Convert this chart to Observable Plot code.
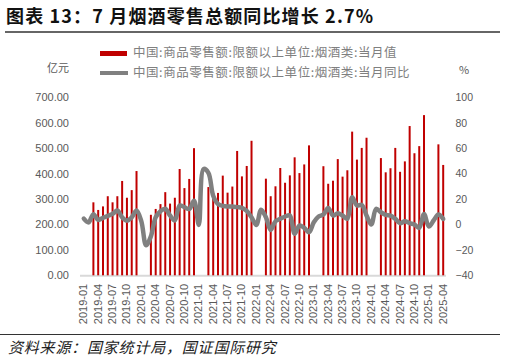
<!DOCTYPE html>
<html><head><meta charset="utf-8">
<script src="https://cdn.jsdelivr.net/npm/d3@7"></script>
<script src="https://cdn.jsdelivr.net/npm/@observablehq/plot@0.6"></script>
<style>
body{margin:0;background:#fff;}
#c{position:relative;width:506px;height:361px;overflow:hidden;font-family:"Noto Sans CJK SC",sans-serif;}
.t{position:absolute;white-space:nowrap;line-height:1;}
.sw{position:absolute;}
#plot{position:absolute;left:0;top:80px;}
</style></head><body><div id="c">
<div class="t" id="title" style="left:6px;top:6px;font-size:18px;font-weight:bold;color:#111;letter-spacing:1.15px"></div>
<div class="sw" style="left:5px;top:30.5px;width:495px;height:2px;background:#666"></div>
<div class="sw" style="left:100px;top:50.5px;width:27px;height:5px;background:#c00000"></div>
<div class="t" id="leg1" style="left:133px;top:46px;font-size:12.5px;color:#808080;letter-spacing:0.55px"></div>
<div class="sw" style="left:100px;top:71px;width:28px;height:4px;background:#808080"></div>
<div class="t" id="leg2" style="left:133px;top:66px;font-size:12.5px;color:#808080;letter-spacing:0.55px"></div>
<div class="t" id="unitL" style="left:47px;top:62px;font-size:11px;color:#595959"></div>
<div class="t" id="unitR" style="left:459px;top:64px;font-size:11px;color:#595959"></div>
<div id="plot"></div>
<div class="sw" style="left:0px;top:333.5px;width:500px;height:1.5px;background:#333"></div>
<div class="t" id="src" style="left:8px;top:339px;font-size:15px;font-style:italic;color:#222;letter-spacing:0.8px"></div>
</div>
<script>
const titleText = "图表 13：7 月烟酒零售总额同比增长 2.7%";
const seriesNames = ["中国:商品零售额:限额以上单位:烟酒类:当月值", "中国:商品零售额:限额以上单位:烟酒类:当月同比"];
const unitLeft = "亿元";
const unitRight = "%";
const sourceText = "资料来源：国家统计局，国证国际研究";

const months = [
 "2019-01","2019-02","2019-03","2019-04","2019-05","2019-06","2019-07","2019-08","2019-09","2019-10","2019-11","2019-12",
 "2020-01","2020-02","2020-03","2020-04","2020-05","2020-06","2020-07","2020-08","2020-09","2020-10","2020-11","2020-12",
 "2021-01","2021-02","2021-03","2021-04","2021-05","2021-06","2021-07","2021-08","2021-09","2021-10","2021-11","2021-12",
 "2022-01","2022-02","2022-03","2022-04","2022-05","2022-06","2022-07","2022-08","2022-09","2022-10","2022-11","2022-12",
 "2023-01","2023-02","2023-03","2023-04","2023-05","2023-06","2023-07","2023-08","2023-09","2023-10","2023-11","2023-12",
 "2024-01","2024-02","2024-03","2024-04","2024-05","2024-06","2024-07","2024-08","2024-09","2024-10","2024-11","2024-12",
 "2025-01","2025-02","2025-03","2025-04"];

// 当月值 (亿元); Jan/Feb not published
const retailValue = [
 null,null,287,257,271,311,287,311,371,305,335,410,
 null,null,238,261,280,327,282,305,418,343,379,500,
 null,null,347,324,324,392,325,349,489,389,430,529,
 null,null,380,311,350,422,364,393,464,402,436,511,
 null,null,429,360,372,457,388,413,565,455,501,541,
 null,null,461,405,421,501,407,448,587,480,508,630,
 null,null,515,434];

// 当月同比 (%)
const retailYoY = [
 5,2,8.5,4,5.6,7.1,8.7,11.3,6,3.5,6,11.3,
 3,-16,-9,6,10.8,12.7,7.4,3.5,15.3,14,12.5,19,
 0,44,41,23,16.5,15,14.5,14.5,14,13.5,11,6,
 0,12,6,-4,2.9,4.8,6.6,7.4,-7,-0.5,-2.3,-5.7,
 2.1,6.6,8.2,13.4,7.4,9.2,7.4,4.8,21.8,15.3,15.8,7.4,
 0.3,12.7,10,7.9,7.4,4.8,1.4,2.9,1.4,0.3,-2.3,8.7,
 -1.3,3.5,8.2,4.8];

const leftTicks = [0,100,200,300,400,500,600,700];
const rightTicks = [-40,-20,0,20,40,60,80,100];

document.getElementById("title").textContent = titleText;
document.getElementById("leg1").textContent = seriesNames[0];
document.getElementById("leg2").textContent = seriesNames[1];
document.getElementById("unitL").textContent = unitLeft;
document.getElementById("unitR").textContent = unitRight;
document.getElementById("src").textContent = sourceText;

const data = months.map((m, i) => ({i, m, v: retailValue[i], yoy: retailYoY[i]}));
// right axis (-40..100) mapped onto left axis (0..700)
const toLeft = p => (p + 40) * 5;

const chart = Plot.plot({
  width: 506, height: 250,
  marginLeft: 80, marginRight: 60, marginTop: 17.3, marginBottom: 54.7,
  style: {fontFamily: "'Liberation Sans', Arial, sans-serif", fontSize: "11px", color: "#595959", background: "transparent"},
  x: {type: "linear", domain: [-0.69, months.length - 1 + 0.69], ticks: d3.range(0, months.length, 3), tickFormat: i => months[i], tickRotate: -90, tickSize: 0, tickPadding: 8, label: null},
  y: {domain: [0, 700], ticks: leftTicks, tickFormat: d3.format(".2f"), tickSize: 0, tickPadding: 11.5, label: null},
  marks: [
    Plot.ruleY([0], {stroke: "#d9d9d9", strokeWidth: 2}),
    Plot.ruleX(data.filter(d => d.v != null), {x: "i", y1: 0, y2: "v", stroke: "#c00000", strokeWidth: 2}),
    Plot.line(data, {x: "i", y: d => toLeft(d.yoy), stroke: "#808080", strokeWidth: 4.5, curve: "catmull-rom"}),
    Plot.text(rightTicks, {y: d => toLeft(d), text: d => d < 0 ? "\u2212" + (-d) : String(d), frameAnchor: "right", textAnchor: "start", dx: 9, fill: "#595959", fontSize: 10.5})
  ]
});
document.getElementById("plot").appendChild(chart);
</script>
</body></html>
